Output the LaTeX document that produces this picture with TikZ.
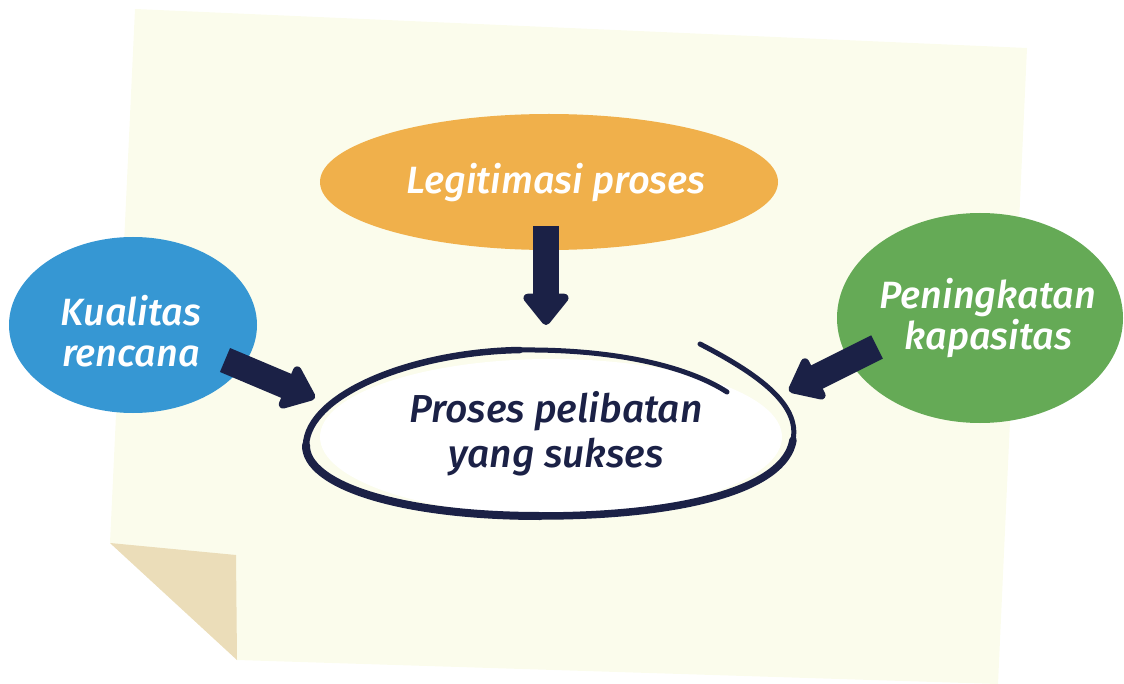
\documentclass[tikz,border=0pt]{standalone}
\usepackage{fontspec}
\newfontfamily\hand{Fira Sans}[ItalicFont={Fira Sans Medium Italic}]
\usetikzlibrary{shapes.geometric,arrows.meta}
\definecolor{paper}{HTML}{FBFCEC}
\definecolor{fold}{HTML}{EBDDB9}
\definecolor{orng}{HTML}{F0B04B}
\definecolor{blu}{HTML}{3697D3}
\definecolor{grn}{HTML}{65AA56}
\definecolor{navy}{HTML}{1B2146}
\tikzset{
  blob/.style={ellipse, draw=none, inner sep=0pt},
  lbl/.style={inner sep=0pt, align=center, text=white, font=\hand\itshape\fontsize{38}{41}\selectfont},
  blockarrow/.style={draw=navy, line width=26pt, line join=round,
    -{Triangle[length=34pt,width=52pt,round]}},
  ring/.style={draw=navy, line cap=round, line join=round}
}
\begin{document}
\begin{tikzpicture}[x=1pt,y=-1pt]
\useasboundingbox (0,0) rectangle (1124,684);
% paper
\fill[paper] (135,9) -- (1027,48) -- (998,684) -- (237,660) -- (110,543) -- cycle;
\fill[fold] (110,543) -- (236,555) -- (237,660) -- cycle;
% ellipses
\node[blob, fill=orng, minimum width=458pt, minimum height=136pt] (leg) at (549,182) {};
\node[blob, fill=blu, minimum width=248pt, minimum height=176pt] (kua) at (133,325) {};
\node[blob, fill=grn, minimum width=286pt, minimum height=210pt] (pen) at (980,318) {};
\node[blob, fill=white, minimum width=462pt, minimum height=156pt] (pro) at (551,437) {};
% central hand-drawn ring
\coordinate (r0) at (700,344);
\coordinate (r1) at (793,440);
\coordinate (r2) at (540,516);
\coordinate (r3) at (306,445);
\coordinate (r4) at (520,350);
\coordinate (r5) at (727,392);
\draw[ring, line width=5pt] (r0) .. controls (760,375) and (800,405) .. (r1);
\draw[ring, line width=7.5pt] (r1) .. controls (785,490) and (680,516) .. (r2);
\draw[ring, line width=8pt] (r2) .. controls (400,516) and (305,485) .. (r3);
\draw[ring, line width=6.5pt] (r3) .. controls (308,395) and (410,352) .. (r4);
\draw[ring, line width=5pt] (r4) .. controls (620,349) and (690,368) .. (r5);
% labels
\node[lbl] (legtxt) at (556,183) {Legitimasi proses};
\node[lbl] (kuatxt) at (131,331) {Kualitas\\rencana};
\node[lbl] (pentxt) at (988,318) {Peningkatan\\kapasitas};
\node[lbl, text=navy, font=\hand\itshape\fontsize{39}{45}\selectfont] (protxt) at (556,434) {Proses pelibatan\\yang sukses};
% arrows
\coordinate (a1s) at (546,226);
\coordinate (a1e) at (546,325);
\coordinate (a2s) at (225,360);
\coordinate (a2e) at (315,398);
\coordinate (a3s) at (877,347);
\coordinate (a3e) at (789,391);
\draw[blockarrow] (a1s) -- (a1e);
\draw[blockarrow] (a2s) -- (a2e);
\draw[blockarrow] (a3s) -- (a3e);
\end{tikzpicture}
\end{document}
